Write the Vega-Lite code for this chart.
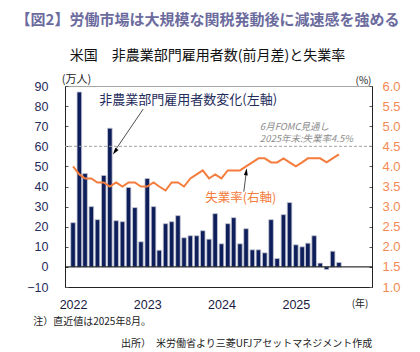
{
  "$schema": "https://vega.github.io/schema/vega-lite/v6.json",
  "width": 307,
  "height": 201,
  "autosize": {"type": "none"},
  "padding": {"left": 65, "top": 86, "right": 48, "bottom": 65},
  "background": "white",
  "title": {
    "text": "【図2】労働市場は大規模な関税発動後に減速感を強める",
    "subtitle": "米国　非農業部門雇用者数(前月差)と失業率",
    "anchor": "middle",
    "frame": "group",
    "dx": -11,
    "offset": 10,
    "font": "Noto Sans CJK JP",
    "fontSize": 15,
    "fontWeight": "bold",
    "color": "#6b6b9e",
    "subtitleFont": "Noto Sans CJK JP",
    "subtitleFontSize": 14,
    "subtitleColor": "#111111",
    "subtitlePadding": 21
  },
  "config": {
    "view": {"stroke": "#a6a6a6", "strokeWidth": 1},
    "axis": {"grid": false, "labelFont": "Liberation Sans", "titleFont": "Noto Sans CJK JP", "domainColor": "#222222", "labelOverlap": false}
  },
  "data": {
    "values": [
      {"date": "2022-01-16", "nfp": 22, "ur": 4.0},
      {"date": "2022-02-16", "nfp": 87, "ur": 3.8},
      {"date": "2022-03-16", "nfp": 46.5, "ur": 3.7},
      {"date": "2022-04-16", "nfp": 30, "ur": 3.7},
      {"date": "2022-05-16", "nfp": 23.5, "ur": 3.6},
      {"date": "2022-06-16", "nfp": 45.5, "ur": 3.6},
      {"date": "2022-07-16", "nfp": 69, "ur": 3.5},
      {"date": "2022-08-16", "nfp": 23, "ur": 3.6},
      {"date": "2022-09-16", "nfp": 22.5, "ur": 3.5},
      {"date": "2022-10-16", "nfp": 39.5, "ur": 3.6},
      {"date": "2022-11-16", "nfp": 29.5, "ur": 3.6},
      {"date": "2022-12-16", "nfp": 12.5, "ur": 3.5},
      {"date": "2023-01-16", "nfp": 44, "ur": 3.5},
      {"date": "2023-02-16", "nfp": 30, "ur": 3.6},
      {"date": "2023-03-16", "nfp": 8.3, "ur": 3.5},
      {"date": "2023-04-16", "nfp": 21.5, "ur": 3.4},
      {"date": "2023-05-16", "nfp": 22.5, "ur": 3.6},
      {"date": "2023-06-16", "nfp": 25.5, "ur": 3.6},
      {"date": "2023-07-16", "nfp": 14.5, "ur": 3.5},
      {"date": "2023-08-16", "nfp": 15.5, "ur": 3.7},
      {"date": "2023-09-16", "nfp": 15.5, "ur": 3.8},
      {"date": "2023-10-16", "nfp": 18, "ur": 3.9},
      {"date": "2023-11-16", "nfp": 13.8, "ur": 3.7},
      {"date": "2023-12-16", "nfp": 26.5, "ur": 3.8},
      {"date": "2024-01-16", "nfp": 11.5, "ur": 3.7},
      {"date": "2024-02-16", "nfp": 21.5, "ur": 3.9},
      {"date": "2024-03-16", "nfp": 24.5, "ur": 3.9},
      {"date": "2024-04-16", "nfp": 11.5, "ur": 3.9},
      {"date": "2024-05-16", "nfp": 19, "ur": 4.0},
      {"date": "2024-06-16", "nfp": 8.5, "ur": 4.1},
      {"date": "2024-07-16", "nfp": 8.5, "ur": 4.2},
      {"date": "2024-08-16", "nfp": 7, "ur": 4.2},
      {"date": "2024-09-16", "nfp": 23.5, "ur": 4.1},
      {"date": "2024-10-16", "nfp": 4.2, "ur": 4.1},
      {"date": "2024-11-16", "nfp": 26, "ur": 4.2},
      {"date": "2024-12-16", "nfp": 32, "ur": 4.1},
      {"date": "2025-01-16", "nfp": 11, "ur": 4.0},
      {"date": "2025-02-16", "nfp": 10, "ur": 4.1},
      {"date": "2025-03-16", "nfp": 11.8, "ur": 4.2},
      {"date": "2025-04-16", "nfp": 15.5, "ur": 4.2},
      {"date": "2025-05-16", "nfp": 1.9, "ur": 4.2},
      {"date": "2025-06-16", "nfp": -1.3, "ur": 4.1},
      {"date": "2025-07-16", "nfp": 7.8, "ur": 4.2},
      {"date": "2025-08-16", "nfp": 2.2, "ur": 4.3}
    ]
  },
  "layer": [
    {
      "layer": [
        {
          "mark": {"type": "bar", "color": "#0d1e5a", "stroke": "#c5c8d4", "strokeWidth": 0.8, "size": 4.6},
          "encoding": {
            "x": {
              "field": "date",
              "type": "temporal",
              "scale": {"domain": [{"year": 2022, "month": 1, "date": 1, "utc": true}, {"year": 2026, "month": 1, "date": 1, "utc": true}]},
              "axis": {
                "values": [
                  {"year": 2022, "month": 1, "date": 16, "utc": true},
                  {"year": 2023, "month": 1, "date": 16, "utc": true},
                  {"year": 2024, "month": 1, "date": 16, "utc": true},
                  {"year": 2025, "month": 1, "date": 16, "utc": true}
                ],
                "format": "%Y",
                "ticks": false,
                "labelFontSize": 12.5,
                "labelColor": "#1a1a40",
                "labelPadding": 11,
                "title": "(年)",
                "titleFontSize": 10,
                "titleFontWeight": "normal",
                "titleColor": "#222222",
                "titleAngle": 0,
                "titleAlign": "right",
                "titleBaseline": "middle",
                "titleX": 303,
                "titleY": 16
              }
            },
            "y": {
              "field": "nfp",
              "type": "quantitative",
              "scale": {"domain": [-10, 90], "nice": false, "zero": false},
              "axis": {
                "values": [-10, 0, 10, 20, 30, 40, 50, 60, 70, 80, 90],
                "tickCount": 11,
                "labelOverlap": false,
                "labelSeparation": 0,
                "tickSize": -3,
                "tickColor": "#555555",
                "labelFontSize": 12.5,
                "labelColor": "#1f2d5c",
                "labelPadding": 20,
                "title": "(万人)",
                "titleFontSize": 11,
                "titleFontWeight": "normal",
                "titleColor": "#222222",
                "titleAngle": 0,
                "titleAlign": "center",
                "titleBaseline": "middle",
                "titleX": 11,
                "titleY": -7
              }
            }
          }
        },
        {
          "data": {"values": [{}]},
          "mark": {"type": "rule", "color": "#000000", "strokeWidth": 1},
          "encoding": {"y": {"datum": 0}}
        },
        {
          "data": {"values": [{}]},
          "mark": {"type": "rule", "color": "#a0a0a0", "strokeWidth": 1, "strokeDash": [3, 2]},
          "encoding": {"y": {"datum": 60}}
        },
        {
          "data": {"values": [{}]},
          "mark": {"type": "text", "text": "非農業部門雇用者数変化(左軸)", "align": "left", "baseline": "middle", "font": "Noto Sans CJK JP", "fontSize": 13, "color": "#1f2d5c"},
          "encoding": {
            "x": {"datum": {"year": 2022, "month": 5, "date": 25, "utc": true}, "type": "temporal"},
            "y": {"datum": 82.8}
          }
        },
        {
          "data": {"values": [{}]},
          "mark": {"type": "text", "text": "失業率(右軸)", "align": "left", "baseline": "middle", "font": "Noto Sans CJK JP", "fontSize": 12.5, "color": "#f47c3c"},
          "encoding": {
            "x": {"datum": {"year": 2023, "month": 10, "date": 28, "utc": true}, "type": "temporal"},
            "y": {"datum": 34.2}
          }
        },
        {
          "data": {"values": [{}]},
          "mark": {"type": "text", "text": "6月FOMC見通し", "align": "left", "baseline": "middle", "font": "Noto Sans CJK JP", "fontSize": 9.5, "fontStyle": "italic", "color": "#8c8c8c"},
          "encoding": {
            "x": {"datum": {"year": 2024, "month": 7, "date": 23, "utc": true}, "type": "temporal"},
            "y": {"datum": 69.6}
          }
        },
        {
          "data": {"values": [{}]},
          "mark": {"type": "text", "text": "2025年末:失業率4.5%", "align": "left", "baseline": "middle", "font": "Noto Sans CJK JP", "fontSize": 9.5, "fontStyle": "italic", "color": "#8c8c8c"},
          "encoding": {
            "x": {"datum": {"year": 2024, "month": 7, "date": 23, "utc": true}, "type": "temporal"},
            "y": {"datum": 63.4}
          }
        },
        {
          "data": {"values": [{}]},
          "mark": {"type": "rule", "color": "#222222", "strokeWidth": 0.8},
          "encoding": {
            "x": {"datum": {"year": 2022, "month": 12, "date": 27, "utc": true}, "type": "temporal"},
            "y": {"datum": 78.5},
            "x2": {"datum": {"year": 2022, "month": 8, "date": 8, "utc": true}},
            "y2": {"datum": 57.5}
          }
        },
        {
          "data": {"values": [{}]},
          "mark": {"type": "point", "shape": "M0,-1L0.55,1L-0.55,1Z", "filled": true, "color": "#000000", "opacity": 1, "size": 50, "angle": 215},
          "encoding": {
            "x": {"datum": {"year": 2022, "month": 8, "date": 10, "utc": true}, "type": "temporal"},
            "y": {"datum": 57.3}
          }
        },
        {
          "data": {"values": [{}]},
          "mark": {"type": "rule", "color": "#222222", "strokeWidth": 0.8},
          "encoding": {
            "x": {"datum": {"year": 2024, "month": 5, "date": 5, "utc": true}, "type": "temporal"},
            "y": {"datum": 37.4},
            "x2": {"datum": {"year": 2024, "month": 5, "date": 17, "utc": true}},
            "y2": {"datum": 47}
          }
        },
        {
          "data": {"values": [{}]},
          "mark": {"type": "point", "shape": "M0,-1L0.55,1L-0.55,1Z", "filled": true, "color": "#000000", "opacity": 1, "size": 50, "angle": 7},
          "encoding": {
            "x": {"datum": {"year": 2024, "month": 5, "date": 17, "utc": true}, "type": "temporal"},
            "y": {"datum": 47.3}
          }
        },
        {
          "data": {"values": [{}]},
          "mark": {"type": "text", "text": "注）直近値は2025年8月。", "align": "left", "baseline": "middle", "font": "Noto Sans CJK JP", "fontSize": 10, "color": "#222222"},
          "encoding": {
            "x": {"datum": {"year": 2021, "month": 7, "date": 4, "utc": true}, "type": "temporal"},
            "y": {"datum": -27.4}
          }
        },
        {
          "data": {"values": [{}]},
          "mark": {"type": "text", "text": "出所）　米労働省より三菱UFJアセットマネジメント作成", "align": "left", "baseline": "middle", "font": "Noto Sans CJK JP", "fontSize": 10, "color": "#222222"},
          "encoding": {
            "x": {"datum": {"year": 2022, "month": 9, "date": 9, "utc": true}, "type": "temporal"},
            "y": {"datum": -38.3}
          }
        }
      ]
    },
    {
      "mark": {"type": "line", "color": "#f47c3c", "strokeWidth": 2},
      "encoding": {
        "x": {"field": "date", "type": "temporal"},
        "y": {
          "field": "ur",
          "type": "quantitative",
          "scale": {"domain": [1, 6], "nice": false, "zero": false},
          "axis": {
            "orient": "right",
            "values": [1, 1.5, 2, 2.5, 3, 3.5, 4, 4.5, 5, 5.5, 6],
            "format": ".1f",
            "tickSize": -3,
            "tickColor": "#555555",
            "labelFontSize": 13,
            "labelColor": "#f58a52",
            "labelPadding": 13,
            "title": "(%)",
            "titleFontSize": 10,
            "titleFontWeight": "normal",
            "titleColor": "#222222",
            "titleAngle": 0,
            "titleAlign": "center",
            "titleBaseline": "middle",
            "titleX": -9,
            "titleY": -6
          }
        }
      }
    }
  ],
  "resolve": {"scale": {"y": "independent"}}
}
